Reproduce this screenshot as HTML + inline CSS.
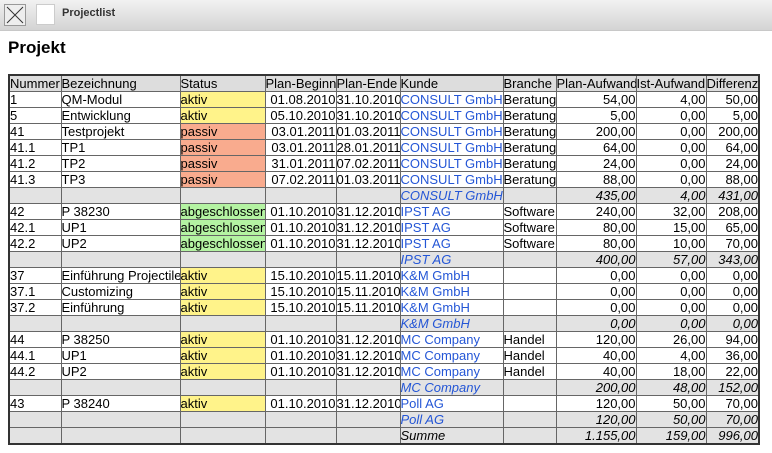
<!DOCTYPE html>
<html><head><meta charset="utf-8"><style>
body{margin:0;width:772px;height:453px;background:#fff;font-family:"Liberation Sans",sans-serif;overflow:hidden;position:relative}
.bar{position:absolute;left:0;top:0;width:772px;height:30px;background:linear-gradient(#f2f2f2,#d4d4d4);border-bottom:1px solid #c8c8c8}
.x{position:absolute;left:4px;top:4px;width:22px;height:22px;border:1px solid #999;background:#eee;box-sizing:border-box}
.sq{position:absolute;left:36px;top:4px;width:19px;height:21px;background:#fff;border:1px solid #ccc;box-sizing:border-box}
.t{position:absolute;left:62px;top:7px;font-size:11px;font-weight:bold;color:#333}
h1{position:absolute;left:8px;top:38px;margin:0;font-size:17px;font-weight:bold}
table{position:absolute;left:8px;top:74px;width:751px;border-collapse:collapse;table-layout:fixed;border:2px solid #333;font-size:13px}
td{border:1px solid #666;height:15px;padding:0;white-space:nowrap;overflow:hidden;line-height:15px}
tr.h td{background:#ddd}
tr.s td{background:#e3e3e3;font-style:italic}
.r{text-align:right}.b{color:#2456d6}
.a{background:#fff38a}.p{background:#f9ab8e}.g{background:#b4f3a2}
</style></head><body>
<div class="bar"><div class="x"><svg width="20" height="20"><path d="M2 2L18 18M18 2L2 18" stroke="#333" stroke-width="1"/></svg></div><div class="sq"></div><div class="t">Projectlist</div></div>
<h1>Projekt</h1>
<table>
<colgroup><col style="width:52px"><col style="width:119px"><col style="width:85px"><col style="width:71px"><col style="width:64px"><col style="width:103px"><col style="width:53px"><col style="width:80px"><col style="width:70px"><col style="width:53px"></colgroup>
<tr class="h"><td>Nummer</td><td>Bezeichnung</td><td>Status</td><td>Plan-Beginn</td><td>Plan-Ende</td><td>Kunde</td><td>Branche</td><td>Plan-Aufwand</td><td>Ist-Aufwand</td><td>Differenz</td></tr>
<tr><td>1</td><td>QM-Modul</td><td class="a">aktiv</td><td class="r">01.08.2010</td><td>31.10.2010</td><td class="b">CONSULT GmbH</td><td>Beratung</td><td class="r">54,00</td><td class="r">4,00</td><td class="r">50,00</td></tr>
<tr><td>5</td><td>Entwicklung</td><td class="a">aktiv</td><td class="r">05.10.2010</td><td>31.10.2010</td><td class="b">CONSULT GmbH</td><td>Beratung</td><td class="r">5,00</td><td class="r">0,00</td><td class="r">5,00</td></tr>
<tr><td>41</td><td>Testprojekt</td><td class="p">passiv</td><td class="r">03.01.2011</td><td>01.03.2011</td><td class="b">CONSULT GmbH</td><td>Beratung</td><td class="r">200,00</td><td class="r">0,00</td><td class="r">200,00</td></tr>
<tr><td>41.1</td><td>TP1</td><td class="p">passiv</td><td class="r">03.01.2011</td><td>28.01.2011</td><td class="b">CONSULT GmbH</td><td>Beratung</td><td class="r">64,00</td><td class="r">0,00</td><td class="r">64,00</td></tr>
<tr><td>41.2</td><td>TP2</td><td class="p">passiv</td><td class="r">31.01.2011</td><td>07.02.2011</td><td class="b">CONSULT GmbH</td><td>Beratung</td><td class="r">24,00</td><td class="r">0,00</td><td class="r">24,00</td></tr>
<tr><td>41.3</td><td>TP3</td><td class="p">passiv</td><td class="r">07.02.2011</td><td>01.03.2011</td><td class="b">CONSULT GmbH</td><td>Beratung</td><td class="r">88,00</td><td class="r">0,00</td><td class="r">88,00</td></tr>
<tr class="s"><td></td><td></td><td></td><td></td><td></td><td class="b">CONSULT GmbH</td><td></td><td class="r">435,00</td><td class="r">4,00</td><td class="r">431,00</td></tr>
<tr><td>42</td><td>P 38230</td><td class="g">abgeschlossen</td><td class="r">01.10.2010</td><td>31.12.2010</td><td class="b">IPST AG</td><td>Software</td><td class="r">240,00</td><td class="r">32,00</td><td class="r">208,00</td></tr>
<tr><td>42.1</td><td>UP1</td><td class="g">abgeschlossen</td><td class="r">01.10.2010</td><td>31.12.2010</td><td class="b">IPST AG</td><td>Software</td><td class="r">80,00</td><td class="r">15,00</td><td class="r">65,00</td></tr>
<tr><td>42.2</td><td>UP2</td><td class="g">abgeschlossen</td><td class="r">01.10.2010</td><td>31.12.2010</td><td class="b">IPST AG</td><td>Software</td><td class="r">80,00</td><td class="r">10,00</td><td class="r">70,00</td></tr>
<tr class="s"><td></td><td></td><td></td><td></td><td></td><td class="b">IPST AG</td><td></td><td class="r">400,00</td><td class="r">57,00</td><td class="r">343,00</td></tr>
<tr><td>37</td><td>Einführung Projectile</td><td class="a">aktiv</td><td class="r">15.10.2010</td><td>15.11.2010</td><td class="b">K&amp;M GmbH</td><td></td><td class="r">0,00</td><td class="r">0,00</td><td class="r">0,00</td></tr>
<tr><td>37.1</td><td>Customizing</td><td class="a">aktiv</td><td class="r">15.10.2010</td><td>15.11.2010</td><td class="b">K&amp;M GmbH</td><td></td><td class="r">0,00</td><td class="r">0,00</td><td class="r">0,00</td></tr>
<tr><td>37.2</td><td>Einführung</td><td class="a">aktiv</td><td class="r">15.10.2010</td><td>15.11.2010</td><td class="b">K&amp;M GmbH</td><td></td><td class="r">0,00</td><td class="r">0,00</td><td class="r">0,00</td></tr>
<tr class="s"><td></td><td></td><td></td><td></td><td></td><td class="b">K&amp;M GmbH</td><td></td><td class="r">0,00</td><td class="r">0,00</td><td class="r">0,00</td></tr>
<tr><td>44</td><td>P 38250</td><td class="a">aktiv</td><td class="r">01.10.2010</td><td>31.12.2010</td><td class="b">MC Company</td><td>Handel</td><td class="r">120,00</td><td class="r">26,00</td><td class="r">94,00</td></tr>
<tr><td>44.1</td><td>UP1</td><td class="a">aktiv</td><td class="r">01.10.2010</td><td>31.12.2010</td><td class="b">MC Company</td><td>Handel</td><td class="r">40,00</td><td class="r">4,00</td><td class="r">36,00</td></tr>
<tr><td>44.2</td><td>UP2</td><td class="a">aktiv</td><td class="r">01.10.2010</td><td>31.12.2010</td><td class="b">MC Company</td><td>Handel</td><td class="r">40,00</td><td class="r">18,00</td><td class="r">22,00</td></tr>
<tr class="s"><td></td><td></td><td></td><td></td><td></td><td class="b">MC Company</td><td></td><td class="r">200,00</td><td class="r">48,00</td><td class="r">152,00</td></tr>
<tr><td>43</td><td>P 38240</td><td class="a">aktiv</td><td class="r">01.10.2010</td><td>31.12.2010</td><td class="b">Poll AG</td><td></td><td class="r">120,00</td><td class="r">50,00</td><td class="r">70,00</td></tr>
<tr class="s"><td></td><td></td><td></td><td></td><td></td><td class="b">Poll AG</td><td></td><td class="r">120,00</td><td class="r">50,00</td><td class="r">70,00</td></tr>
<tr class="s"><td></td><td></td><td></td><td></td><td></td><td>Summe</td><td></td><td class="r">1.155,00</td><td class="r">159,00</td><td class="r">996,00</td></tr>
</table>
</body></html>
